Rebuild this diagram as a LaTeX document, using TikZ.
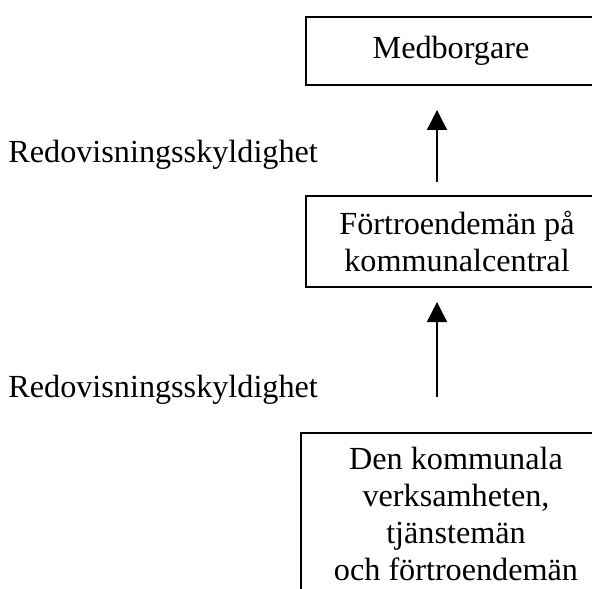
\documentclass[tikz,border=0pt]{standalone}
\usepackage{fontspec}
\setmainfont{Liberation Serif}
\usetikzlibrary{arrows.meta,positioning}

\begin{document}
\begin{tikzpicture}[x=0.5pt, y=-0.5pt,
      box/.style={draw=black, line width=1pt, align=center, inner sep=0pt,
                  font=\fontsize{16.1}{18.4}\selectfont},
      lbl/.style={anchor=west, inner sep=0pt, font=\fontsize{16.1}{18.5}\selectfont},
      arr/.style={-{Triangle[length=10pt, width=10pt]}, line width=0.75pt}]
    \useasboundingbox (0,0) rectangle (592,588);
    \clip (0,0) rectangle (592,588);
    \node[box, minimum width=145pt, minimum height=34pt] (medb) at (451,51) {Medborgare};
    \node[box, minimum width=151pt, minimum height=45.5pt] (fort) at (457,241.5) {Förtroendemän på\\kommunalcentral};
    \node[box, minimum width=155pt, minimum height=81pt] (verk) at (456,514) {Den kommunala\\verksamheten,\\tjänstemän\\och förtroendemän};
    \node[lbl] (red1) at (8,155) {Redovisningsskyldighet};
    \node[lbl] (red2) at (8,390) {Redovisningsskyldighet};
    \coordinate (a1s) at (437,182); \coordinate (a1e) at (437,110);
    \coordinate (a2s) at (437,397); \coordinate (a2e) at (437,302);
    \draw[arr] (a1s) -- (a1e); \draw[arr] (a2s) -- (a2e);
  \end{tikzpicture}
\end{document}
